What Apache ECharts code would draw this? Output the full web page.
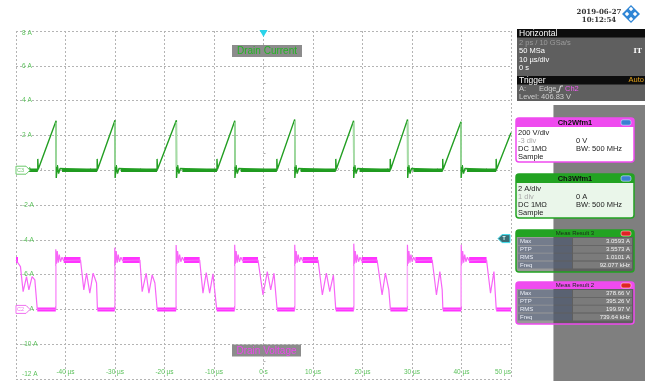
<!DOCTYPE html>
<html><head><meta charset="utf-8">
<script src="https://cdn.jsdelivr.net/npm/echarts@6/dist/echarts.min.js"></script>
<style>html,body{margin:0;padding:0;background:#fff}#c{width:647px;height:381px}</style>
</head><body><div id="c"></div>
<script>
// ---- axes (scope screen) ----
const xMin = -50, xMax = 50, xStep = 10;          // µs, 10 µs/div
const yMin = -12, yMax = 8, yStep = 2;            // A, 2 A/div (Ch3)
const voltsPerUnit = 100;                         // Ch2 200 V/div on a 2 A/div screen
const voltZero = -8;                              // Ch2 0 V sits on the -8 A line

// ---- Drain current (Ch3), A ----
const curRampStart = [-45.6, -33.6, -21.5, -9.4, 2.7, 14.6, 25.6, 36.2, 47.0];
const curPeakTime  = [-41.9, -30.0, -17.6, -5.8, 6.3, 18.2, 29.1, 39.9];
const curPeak      = [2.84, 2.87, 2.87, 2.84, 2.92, 2.84, 2.92, 2.78];
const curEndValue  = 2.15;
const curOnT  = [0, 0.1];           const curOnV  = [0.65, 0.05];
const curOffT = [0.03, 0.25, 0.5, 0.8, 1.2]; const curOffV = [-0.45, 0.3, -0.2, 0.1, 0];

// ---- Drain voltage (Ch2), V ----
const vInitial = [[-50,284],[-49.7,284],[-49.1,246],[-48.56,102],[-47.87,188],[-47.4,112],[-46.75,188],[-46.2,170]];
const vInitialDrop = -45.7;
const vJump       = [-41.96, -30.05, -17.65, -5.82, 6.31, 18.24, 29.08, 39.94];
const vSpike      = [345, 355, 370, 372, 372, 378, 372, 372];
const vBurstT     = [0.15, 0.3, 0.5, 0.7, 0.95, 1.25, 1.6, 2.0];
const vBurstV     = [262, 335, 268, 315, 274, 300, 280, 286];
const vPlateau    = 284;
const vPlateauEnd = [-36.97, -24.97, -12.90, -1.11, 11.02, 22.95, 34.08, 45.06];
const vRing = [
  [[-36.30,112],[-35.75,208],[-35.09,93],[-34.42,208],[-33.73,152]],
  [[-24.51,102],[-23.70,208],[-23.15,93],[-22.49,198],[-21.94,152]],
  [[-12.23,93],[-11.57,211],[-10.88,93],[-10.21,204]],
  [[-0.10,83],[0.77,217],[1.46,112],[2.12,208]],
  [[11.89,83],[12.70,208],[13.39,102],[14.12,198]],
  [[23.96,83],[24.63,208],[25.32,112]],
  [[34.94,83],[35.63,217],[36.10,112]],
  [[45.86,93],[46.55,217]]
];
const vDrop = [-33.55, -21.48, -9.45, 2.75, 14.6, 25.64, 36.24, 47.02];

// ---- build series data ----
const toScr = v => voltZero + v / voltsPerUnit;
const curData = [[xMin, 0]];
const curBand = [[xMin, 0]];
const curFall = [];
curRampStart.forEach((rs, i) => {
  curData.push([rs, 0]);
  curBand.push([rs, 0], [rs, '-']);
  curOnT.forEach((d, k) => curData.push([rs + d, curOnV[k]]));
  if (i < curPeakTime.length) {
    const tp = curPeakTime[i];
    curData.push([tp, curPeak[i]]);
    curFall.push([tp, curPeak[i] - 0.1], [tp + curOffT[0], 0.2], [tp + curOffT[0], '-']);
    curOffT.forEach((d, k) => curData.push([tp + d, curOffV[k]]));
    curBand.push([tp + 1.2, 0]);
  } else {
    curData.push([xMax, curEndValue]);
  }
});

const vData = vInitial.map(p => [p[0], toScr(p[1])]);
const vHiBand = [[xMin, toScr(vPlateau)], [-49.6, toScr(vPlateau)], [-49.6, '-']];
const vLoBand = [];
const vEdges = [];
let prevDrop = vInitialDrop;
vData.push([vInitialDrop, toScr(0)]);
vJump.forEach((tj, i) => {
  vLoBand.push([prevDrop, toScr(0)], [tj, toScr(0)], [tj, '-']);
  vData.push([tj, toScr(0)], [tj, toScr(vSpike[i])]);
  vEdges.push([tj, toScr(20)], [tj, toScr(250)], [tj, '-']);
  vBurstT.forEach((d, k) => vData.push([tj + d, toScr(vBurstV[k])]));
  vData.push([vPlateauEnd[i], toScr(vPlateau)]);
  vHiBand.push([tj + 1.6, toScr(vPlateau)], [vPlateauEnd[i], toScr(vPlateau)], [vPlateauEnd[i], '-']);
  vRing[i].forEach(p => vData.push([p[0], toScr(p[1])]));
  vData.push([vDrop[i], toScr(0)]);
  prevDrop = vDrop[i];
});
vData.push([xMax, toScr(0)]);
vLoBand.push([prevDrop, toScr(0)], [xMax, toScr(0)]);

// ---- chart ----
const chart = echarts.init(document.getElementById('c'), null, {renderer: 'canvas'});
const gridCol = '#b4b4b4';
const lblCol = '#5cc25c';
const F = '"Liberation Sans", Arial, sans-serif';
const GL = 16, GT = 31, GW = 495, GH = 348;

chart.setOption({
  animation: false,
  backgroundColor: '#ffffff',
  grid: {left: GL, top: GT, width: GW, height: GH, containLabel: false},
  xAxis: {
    type: 'value', min: xMin, max: xMax, interval: xStep,
    axisLine: {show: false},
    axisTick: {show: true, inside: true, length: 3, lineStyle: {color: gridCol}},
    minorTick: {show: true, splitNumber: 2, length: 2, lineStyle: {color: gridCol}},
    splitLine: {show: true, lineStyle: {color: gridCol, type: [2, 2], width: 1}},
    axisLabel: {inside: true, margin: 3, color: lblCol, fontSize: 6.5, fontFamily: F,
      showMinLabel: false, alignMaxLabel: 'right',
      formatter: v => v === 0 ? '0 s' : v + ' µs'}
  },
  yAxis: {
    type: 'value', min: yMin, max: yMax, interval: yStep,
    axisLine: {show: false},
    axisTick: {show: true, inside: true, length: 3, lineStyle: {color: gridCol}},
    minorTick: {show: true, splitNumber: 2, length: 2, lineStyle: {color: gridCol}},
    splitLine: {show: true, lineStyle: {color: gridCol, type: [2, 2], width: 1}},
    axisLabel: {inside: true, margin: 6, color: lblCol, fontSize: 6.5, fontFamily: F,
      formatter: v => v === yMax ? '{t|' + v + ' A}' : (v === yMin ? '{b|' + v + ' A}' : v + ' A'),
      rich: {
        t: {color: lblCol, fontSize: 6.5, fontFamily: F, padding: [5, 0, 0, 0]},
        b: {color: lblCol, fontSize: 6.5, fontFamily: F, padding: [0, 0, 10, 0]}
      }}
  },
  series: [
    {type: 'line', name: 'curBand', data: curBand, showSymbol: false, silent: true,
      lineStyle: {color: '#1f9a1f', width: 3.5}, z: 3},
    {type: 'line', name: 'Drain Current', data: curData, showSymbol: false,
      lineStyle: {color: '#239f23', width: 1.4}, z: 4},
    {type: 'line', name: 'curFall', data: curFall, showSymbol: false, silent: true,
      lineStyle: {color: '#a6dca6', width: 1.4}, z: 5},
    {type: 'line', name: 'vLoBand', data: vLoBand, showSymbol: false, silent: true,
      lineStyle: {color: '#ff33ff', width: 4}, z: 3},
    {type: 'line', name: 'vHiBand', data: vHiBand, showSymbol: false, silent: true,
      lineStyle: {color: '#ff33ff', width: 6}, z: 3},
    {type: 'line', name: 'Drain Voltage', data: vData, showSymbol: false,
      lineStyle: {color: '#f766f7', width: 1.2}, z: 4},
    {type: 'line', name: 'vEdges', data: vEdges, showSymbol: false, silent: true,
      lineStyle: {color: '#fbb0fb', width: 1.2}, z: 5}
  ]
});

// ---- overlays: labels, markers, side panel ----
const px = (x, y) => chart.convertToPixel({gridIndex: 0}, [x, y]);
const trigX = px(0, 0)[0];
const trigY = px(0, toScr(406.83))[1];
const c3Y = px(0, 0)[1];
const c2Y = px(0, toScr(0))[1];
const txt = (x, y, s, o) => Object.assign({type: 'text', x: x, y: y, z: 100,
  style: Object.assign({text: s, fill: '#fff', font: '7.5px ' + F, verticalAlign: 'middle', align: 'left'}, o || {})});
const rect = (x, y, w, h, o) => ({type: 'rect', z: 99, shape: Object.assign({x: x, y: y, width: w, height: h}, o && o.shape || {}),
  style: Object.assign({}, o && o.style || {})});

const els = [];
// trace name tags
els.push(rect(232, 45, 70, 12, {style: {fill: '#8c8c8c'}}));
els.push(txt(267, 51.5, 'Drain Current', {fill: '#22b522', font: '10px ' + F, align: 'center'}));
els.push(rect(232, 344.5, 69, 12, {style: {fill: '#8c8c8c'}}));
els.push(txt(266.5, 351, 'Drain Voltage', {fill: '#ef45ef', font: '10px ' + F, align: 'center'}));
// trigger position marker
els.push({type: 'polygon', z: 100, shape: {points: [[trigX - 4, 30], [trigX + 4, 30], [trigX, 37]]}, style: {fill: '#2ad4ea'}});
// trigger level tag
els.push({type: 'polygon', z: 100, shape: {points: [[498, trigY], [502, trigY - 4], [510, trigY - 4], [510, trigY + 4], [502, trigY + 4]]},
  style: {fill: '#3b6d74', stroke: '#3fe0f0', lineWidth: 1}});
els.push(txt(504, trigY, 'T', {fill: '#dff', font: 'bold 5px ' + F, align: 'center'}));
// channel ground badges
[[c3Y, '#6cc86c', 'C3'], [c2Y, '#f070f0', 'C2']].forEach(b => {
  els.push({type: 'polygon', z: 100, shape: {points: [[16, b[0] - 4], [26, b[0] - 4], [30, b[0]], [26, b[0] + 4], [16, b[0] + 4]]},
    style: {fill: '#fff', stroke: b[1], lineWidth: 1}});
  els.push(txt(20.5, b[0], b[2], {fill: b[1], font: '5.5px ' + F, align: 'center'}));
});

// date & logo
els.push(txt(599, 12, '2019-06-27', {fill: '#333', font: 'bold 7px "DejaVu Serif", serif', align: 'center'}));
els.push(txt(599, 20, '10:12:54', {fill: '#333', font: 'bold 7px "DejaVu Serif", serif', align: 'center'}));
els.push({type: 'polygon', z: 100, shape: {points: [[631, 5], [640, 14], [631, 23], [622, 14]]}, style: {fill: '#2f86d6'}});
[[631, 9], [635, 14], [631, 19], [627, 14]].forEach(c => els.push({type: 'polygon', z: 101,
  shape: {points: [[c[0], c[1] - 2.2], [c[0] + 2.2, c[1]], [c[0], c[1] + 2.2], [c[0] - 2.2, c[1]]]}, style: {fill: '#fff'}}));

// gray side area
els.push(rect(553, 105, 92, 276, {style: {fill: '#7f7f7f'}}));
els.push(rect(553, 105, 1, 276, {style: {fill: '#b8b8b8'}}));

// Horizontal / Trigger panel
els.push(rect(517, 29, 128, 72, {style: {fill: '#5f5f5f'}}));
els.push(rect(517, 29, 128, 8.5, {style: {fill: '#0d0d0d'}}));
els.push(txt(519, 33.3, 'Horizontal', {font: '8.5px ' + F}));
els.push(txt(519, 43, '2 ps / 10 GSa/s', {fill: '#9c9c9c'}));
els.push(txt(519, 51, '50 MSa'));
els.push(txt(642, 51, 'IT', {font: 'bold 7px "DejaVu Serif", serif', align: 'right'}));
els.push(txt(519, 59.5, '10 µs/div'));
els.push(txt(519, 68, '0 s'));
els.push(rect(517, 76, 128, 8.5, {style: {fill: '#0d0d0d'}}));
els.push(txt(519, 80.3, 'Trigger', {font: '8.5px ' + F}));
els.push(txt(644, 80.3, 'Auto', {fill: '#e3a21a', align: 'right'}));
els.push(txt(519, 89, 'A:', {fill: '#cfcfcf'}));
els.push(txt(539, 89, 'Edge', {fill: '#cfcfcf'}));
els.push({type: 'polyline', z: 100, shape: {points: [[556, 92], [559, 92], [560.5, 86], [563, 86]]}, style: {stroke: '#e0e0e0', lineWidth: 1, fill: null}});
els.push(txt(565, 89, 'Ch2', {fill: '#f35bf3'}));
els.push(txt(519, 97, 'Level: 406.83 V', {fill: '#cfcfcf'}));

// Channel boxes
function chBox(y, col, body, title, rows) {
  els.push(rect(516, y, 118, 44, {shape: {r: 3}, style: {fill: body, stroke: col, lineWidth: 1.5}}));
  els.push(rect(516, y, 118, 9, {shape: {r: [3, 3, 0, 0]}, style: {fill: col}}));
  els.push(txt(575, y + 4.6, title, {fill: '#111', font: 'bold 7.5px ' + F, align: 'center'}));
  els.push(rect(621, y + 1.8, 10, 5.4, {shape: {r: 2}, style: {fill: '#3a80d2', stroke: '#dfe8ff', lineWidth: 0.6}}));
  rows.forEach((r, k) => {
    const yy = y + 15 + k * 7.9;
    els.push(txt(518, yy, r[0], {fill: r[2] ? '#aaaaaa' : '#222'}));
    if (r[1]) els.push(txt(576, yy, r[1], {fill: '#222'}));
  });
}
chBox(118, '#ef4bef', '#ffffff', 'Ch2Wfm1', [['200 V/div'], ['-3 div', '0 V', true], ['DC 1MΩ', 'BW: 500 MHz'], ['Sample']]);
chBox(174, '#22a322', '#eaf6ea', 'Ch3Wfm1', [['2 A/div'], ['1 div', '0 A', true], ['DC 1MΩ', 'BW: 500 MHz'], ['Sample']]);

// Measurement boxes
function measBox(y, col, title, names, vals) {
  els.push(rect(516, y, 118, 42, {shape: {r: 3}, style: {fill: 'rgba(70,70,70,0.55)', stroke: col, lineWidth: 1.5}}));
  els.push(rect(516, y, 118, 7, {shape: {r: [3, 3, 0, 0]}, style: {fill: col}}));
  els.push(txt(575, y + 3.6, title, {fill: '#1b2a1b', font: '6px ' + F, align: 'center'}));
  els.push(rect(621, y + 1, 10, 5, {shape: {r: 2}, style: {fill: '#e02424', stroke: '#ffdede', lineWidth: 0.6}}));
  names.forEach((n, k) => {
    const yy = y + 8 + k * 7.8;
    els.push(rect(518, yy, 54, 7, {style: {fill: 'rgba(85,100,130,0.55)'}}));
    els.push(rect(573, yy, 59, 7, {style: {fill: '#7b7b7b'}}));
    els.push(txt(520, yy + 3.6, n, {fill: '#e9edf5', font: '6px ' + F}));
    els.push(txt(630, yy + 3.6, vals[k], {fill: '#f2f2f2', font: '6px ' + F, align: 'right'}));
  });
}
measBox(230, '#22a322', 'Meas Result 3', ['Max', 'PTP', 'RMS', 'Freq'], ['3.0593 A', '3.5573 A', '1.0101 A', '92.077 kHz']);
measBox(282, '#ef4bef', 'Meas Result 2', ['Max', 'PTP', 'RMS', 'Freq'], ['378.66 V', '395.26 V', '199.97 V', '739.64 kHz']);

chart.setOption({graphic: {elements: els}});
</script>
</body></html>
